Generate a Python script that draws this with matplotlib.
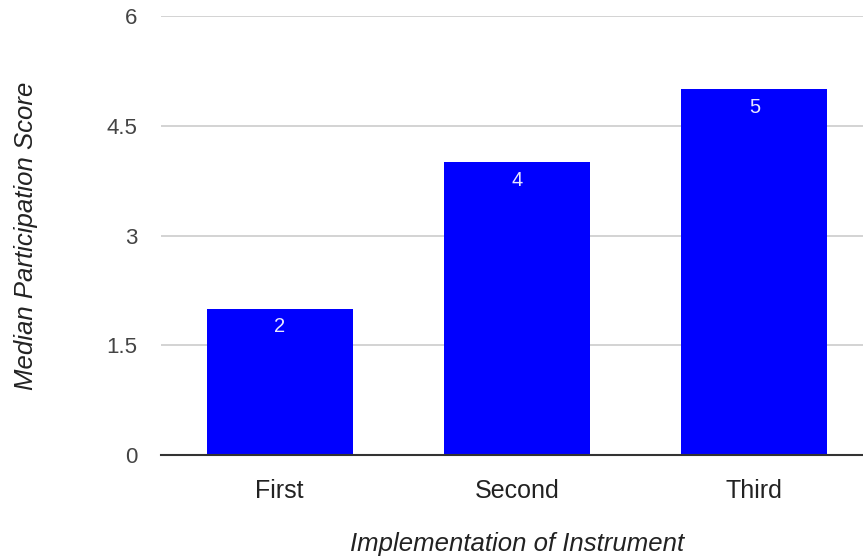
import matplotlib
matplotlib.use("Agg")
import matplotlib.pyplot as plt

categories = ["First", "Second", "Third"]
medians = [2, 4, 5]
y_ticks = [0, 1.5, 3, 4.5, 6]
y_tick_labels = ["0", "1.5", "3", "4.5", "6"]

plt.rcParams["font.family"] = ["Liberation Sans", "DejaVu Sans"]

W, H = 863, 560
fig = plt.figure(figsize=(W / 100, H / 100), dpi=100)
left, right, top, bottom = 161, 873, 16, 455
ax = fig.add_axes([left / W, 1 - bottom / H, (right - left) / W, (bottom - top) / H])

x = list(range(len(categories)))
bars = ax.bar(x, medians, width=0.616, color="#0000ff", zorder=3)

for xi, v in zip(x, medians):
    ax.annotate(str(v), (xi, v), xytext=(0, -6), textcoords="offset points",
                ha="center", va="top", color="#e8e8ff", fontsize=14.5)

ax.set_xlim(-0.5, 2.5)
ax.set_ylim(0, 6)
ax.set_yticks(y_ticks)
ax.set_yticklabels(y_tick_labels)
ax.set_xticks(x)
ax.set_xticklabels(categories)

ax.grid(axis="y", color="#cccccc", linewidth=1.2, zorder=0)
for s in ["top", "right", "left"]:
    ax.spines[s].set_visible(False)
ax.spines["bottom"].set_color("#333333")
ax.spines["bottom"].set_linewidth(1.5)
ax.spines["bottom"].set_zorder(4)

ax.tick_params(axis="y", length=0, pad=17, labelsize=16, labelcolor="#444444")
ax.tick_params(axis="x", length=0, pad=17, labelsize=18, labelcolor="#222222")

ax.set_xlabel("Implementation of Instrument", fontsize=18.5, style="italic",
              color="#222222", labelpad=21)
ax.set_ylabel("Median Participation Score", fontsize=18.5, style="italic",
              color="#222222", labelpad=49)

fig.savefig("out.png", dpi=100)
